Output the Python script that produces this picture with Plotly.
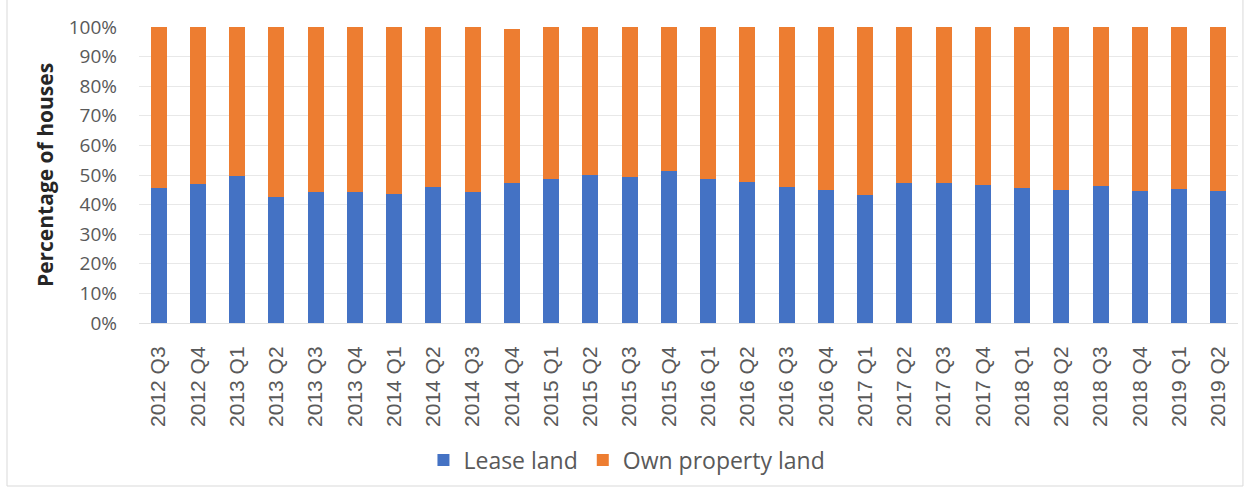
import plotly.graph_objects as go

quarters = ["2012 Q3", "2012 Q4", "2013 Q1", "2013 Q2", "2013 Q3", "2013 Q4",
            "2014 Q1", "2014 Q2", "2014 Q3", "2014 Q4", "2015 Q1", "2015 Q2",
            "2015 Q3", "2015 Q4", "2016 Q1", "2016 Q2", "2016 Q3", "2016 Q4",
            "2017 Q1", "2017 Q2", "2017 Q3", "2017 Q4", "2018 Q1", "2018 Q2",
            "2018 Q3", "2018 Q4", "2019 Q1", "2019 Q2"]
lease_land = [45.5, 46.9, 49.8, 42.5, 44.4, 44.4, 43.6, 45.8, 44.4, 47.2,
              48.7, 50.0, 49.2, 51.2, 48.6, 47.8, 46.1, 44.9, 43.3, 47.2,
              47.4, 46.7, 45.5, 44.9, 46.3, 44.7, 45.2, 44.7]
own_property_land = [54.5, 53.1, 50.2, 57.5, 55.6, 55.6, 56.4, 54.2, 55.6, 52.1,
                     51.3, 50.0, 50.8, 48.8, 51.4, 52.2, 53.9, 55.1, 56.7, 52.8,
                     52.6, 53.3, 54.5, 55.1, 53.7, 55.3, 54.8, 55.3]

main_font = "'Open Sans', sans-serif"
x_font = "'Liberation Sans', Arial, sans-serif"

fig = go.Figure()
fig.add_trace(go.Bar(x=quarters, y=lease_land, name="Lease land",
                     marker=dict(color="#4472C4", line=dict(width=0))))
fig.add_trace(go.Bar(x=quarters, y=own_property_land, name="Own property land",
                     marker=dict(color="#ED7D31", line=dict(width=0))))

fig.update_layout(
    barmode="stack",
    bargap=0.59,
    width=1253, height=489,
    margin=dict(l=139, r=15, t=27, b=166, autoexpand=False),
    paper_bgcolor="white", plot_bgcolor="white",
    font=dict(family=main_font, color="#595959"),
    showlegend=True,
    legend=dict(orientation="h", x=0.444, xanchor="center",
                y=-0.463, yanchor="middle",
                font=dict(size=23, color="#595959", family=main_font),
                traceorder="normal"),
    xaxis=dict(tickangle=-90, tickfont=dict(size=21, color="#595959", family=x_font),
               showline=True, linecolor="#e0e0e0", linewidth=1,
               showgrid=False, ticks="", ticklabelstandoff=14),
    yaxis=dict(range=[0, 100], dtick=10, ticksuffix="%",
               tickfont=dict(size=19, color="#595959", family=main_font),
               showgrid=True, gridcolor="#e8e8e8", gridwidth=1,
               zeroline=False, showline=False, ticks="", ticklabelstandoff=21,
               title=dict(text="<b>Percentage of houses</b>",
                          font=dict(size=21, color="#262626", family=main_font),
                          standoff=9)),
    shapes=[dict(type="rect", xref="paper", yref="paper",
                 x0=-0.1201, x1=1.0045, y0=-0.5507, y1=1.2,
                 line=dict(color="#d9d9d9", width=1), fillcolor="rgba(0,0,0,0)")]
)

fig.write_html("out.html", config={"displayModeBar": False},
               post_script="document.body.style.margin='0px';")
